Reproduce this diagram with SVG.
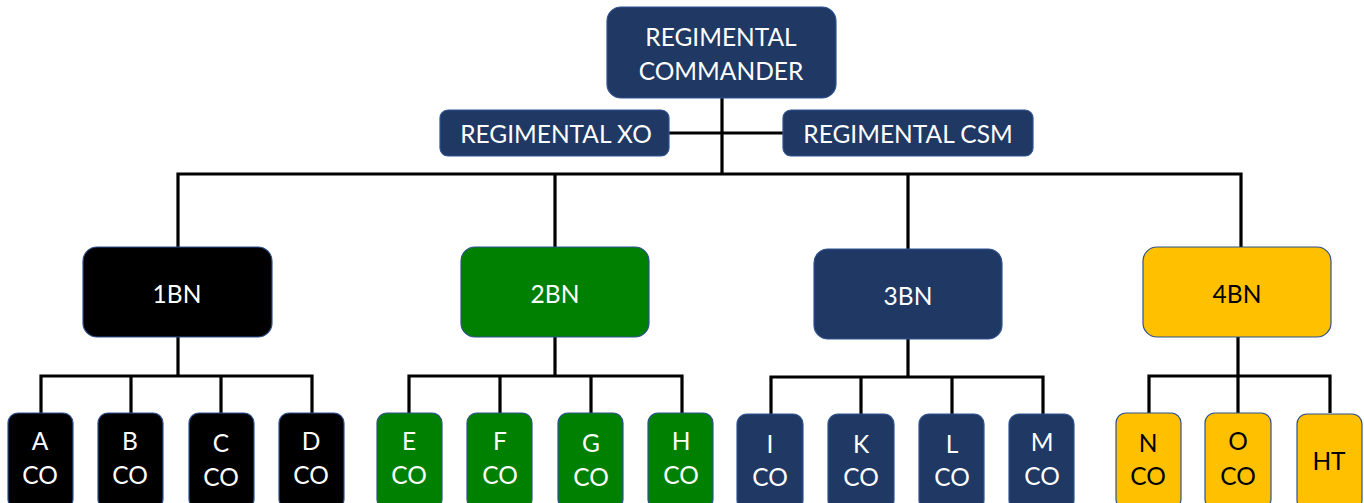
<svg xmlns="http://www.w3.org/2000/svg" width="1364" height="503" viewBox="0 0 1364 503">
<style>
.n rect{stroke:#2F528F;stroke-width:1.2}
.navy{fill:#203864}.blk{fill:#000}.grn{fill:#008000}.yel{fill:#FFC000}
text{font-family:Lato,"Open Sans","Liberation Sans",sans-serif;font-size:24.5px;text-anchor:middle;dominant-baseline:central;fill:#fff}
.dk text{fill:#000}
.c path{fill:none;stroke:#000;stroke-width:3.2}
</style>
<rect width="1364" height="503" fill="#fff"/>
<g class="c">
<path d="M722 98V174M669 133H783M178 248V174H1241V248M555 174V248M908 174V250"/>
<path d="M178 337V376M41 413V376H312V413M131 376V413M221 376V413"/>
<path d="M555 337V376M409 413V376H682V413M500 376V413M591 376V413"/>
<path d="M908 339V377M771 414V377H1043V414M861 377V414M952 377V414"/>
<path d="M1238 337V376M1149 413V376H1330V413M1238 376V413"/>
</g>
<g id="cmd" class="n"><rect class="navy" x="607" y="7" width="229" height="91" rx="14"/><text x="721" y="36">REGIMENTAL</text><text x="721" y="70">COMMANDER</text></g>
<g id="xo" class="n"><rect class="navy" x="440" y="110" width="229" height="46" rx="8"/><text x="556" y="133">REGIMENTAL XO</text></g>
<g id="csm" class="n"><rect class="navy" x="783" y="110" width="250" height="46" rx="8"/><text x="908" y="133">REGIMENTAL CSM</text></g>
<g id="bn1" class="n"><rect class="blk" x="83" y="247" width="189" height="90" rx="14"/><text x="177" y="293">1BN</text></g>
<g id="bn2" class="n"><rect class="grn" x="461" y="247" width="188" height="90" rx="14"/><text x="555" y="293">2BN</text></g>
<g id="bn3" class="n"><rect class="navy" x="814" y="249" width="188" height="90" rx="14"/><text x="908" y="295">3BN</text></g>
<g id="bn4" class="n dk"><rect class="yel" x="1143" y="247" width="188" height="90" rx="14"/><text x="1237" y="293">4BN</text></g>
<g id="a" class="n"><rect class="blk" x="8" y="413" width="65" height="96" rx="10"/><text x="40" y="440">A</text><text x="40" y="474">CO</text></g>
<g id="b" class="n"><rect class="blk" x="98" y="413" width="65" height="96" rx="10"/><text x="130" y="440">B</text><text x="130" y="474">CO</text></g>
<g id="c" class="n"><rect class="blk" x="189" y="413" width="65" height="96" rx="10"/><text x="221" y="442">C</text><text x="221" y="476">CO</text></g>
<g id="d" class="n"><rect class="blk" x="279" y="413" width="65" height="96" rx="10"/><text x="311" y="440">D</text><text x="311" y="474">CO</text></g>
<g id="e" class="n"><rect class="grn" x="377" y="413" width="65" height="96" rx="10"/><text x="409" y="440">E</text><text x="409" y="474">CO</text></g>
<g id="f" class="n"><rect class="grn" x="467" y="413" width="65" height="96" rx="10"/><text x="500" y="440">F</text><text x="500" y="474">CO</text></g>
<g id="g" class="n"><rect class="grn" x="558" y="413" width="65" height="96" rx="10"/><text x="591" y="442">G</text><text x="591" y="476">CO</text></g>
<g id="h" class="n"><rect class="grn" x="648" y="413" width="65" height="96" rx="10"/><text x="681" y="440">H</text><text x="681" y="474">CO</text></g>
<g id="i" class="n"><rect class="navy" x="737" y="414" width="66" height="96" rx="10"/><text x="770" y="443">I</text><text x="770" y="476">CO</text></g>
<g id="k" class="n"><rect class="navy" x="828" y="414" width="66" height="96" rx="10"/><text x="861" y="443">K</text><text x="861" y="476">CO</text></g>
<g id="l" class="n"><rect class="navy" x="919" y="414" width="65" height="96" rx="10"/><text x="952" y="443">L</text><text x="952" y="476">CO</text></g>
<g id="m" class="n"><rect class="navy" x="1009" y="414" width="65" height="96" rx="10"/><text x="1042" y="441">M</text><text x="1042" y="475">CO</text></g>
<g id="nco" class="n dk"><rect class="yel" x="1116" y="413" width="65" height="96" rx="10"/><text x="1148" y="442">N</text><text x="1148" y="475">CO</text></g>
<g id="oco" class="n dk"><rect class="yel" x="1205" y="413" width="66" height="96" rx="10"/><text x="1238" y="440">O</text><text x="1238" y="475">CO</text></g>
<g id="ht" class="n dk"><rect class="yel" x="1297" y="414" width="65" height="96" rx="10"/><text x="1329" y="460">HT</text></g>
</svg>
